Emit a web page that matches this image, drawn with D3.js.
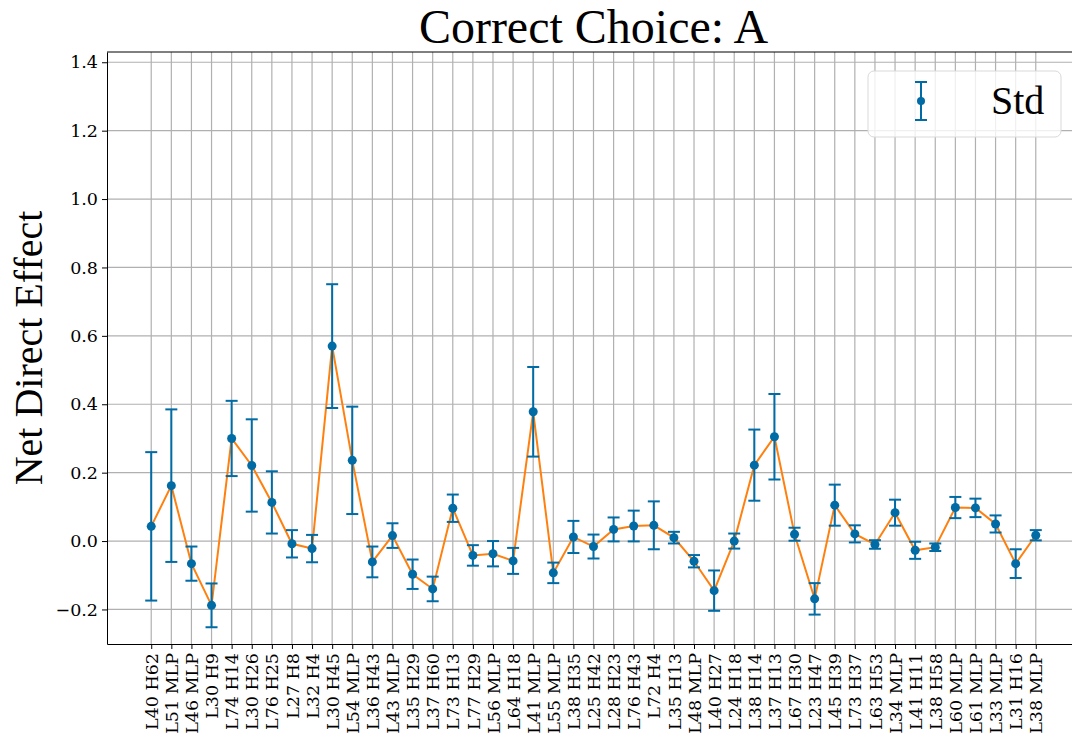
<!DOCTYPE html>
<html>
<head>
<meta charset="utf-8">
<script src="https://cdn.jsdelivr.net/npm/d3@7"></script>
<style>
  body { margin: 0; background: #fff; }
  svg { display: block; }
</style>
</head>
<body>
<svg id="chart" width="1072" height="740"></svg>
<script>
// components on the x axis
const labels = ["L40 H62", "L51 MLP", "L46 MLP", "L30 H9", "L74 H14", "L30 H26", "L76 H25", "L27 H8",
  "L32 H4", "L30 H45", "L54 MLP", "L36 H43", "L43 MLP", "L35 H29", "L37 H60", "L73 H13", "L77 H29",
  "L56 MLP", "L64 H18", "L41 MLP", "L55 MLP", "L38 H35", "L25 H42", "L28 H23", "L76 H43", "L72 H4",
  "L35 H13", "L48 MLP", "L40 H27", "L24 H18", "L38 H14", "L37 H13", "L67 H30", "L23 H47", "L45 H39",
  "L73 H37", "L63 H53", "L34 MLP", "L41 H11", "L38 H58", "L60 MLP", "L61 MLP", "L33 MLP", "L31 H16",
  "L38 MLP"];

// mean net direct effect
const means = [0.043, 0.162, -0.066, -0.188, 0.300, 0.221, 0.113, -0.008, -0.022, 0.570, 0.236,
  -0.061, 0.016, -0.097, -0.140, 0.096, -0.042, -0.037, -0.058, 0.378, -0.093, 0.012, -0.016,
  0.034, 0.044, 0.046, 0.010, -0.059, -0.145, 0.000, 0.222, 0.305, 0.020, -0.169, 0.105, 0.021,
  -0.010, 0.083, -0.027, -0.018, 0.098, 0.097, 0.050, -0.066, 0.017];

// standard deviation (error bar half length)
const stds = [0.217, 0.223, 0.050, 0.064, 0.110, 0.135, 0.091, 0.040, 0.040, 0.181, 0.157,
  0.045, 0.036, 0.043, 0.036, 0.040, 0.030, 0.037, 0.038, 0.131, 0.030, 0.047, 0.035,
  0.035, 0.045, 0.070, 0.017, 0.018, 0.059, 0.022, 0.104, 0.125, 0.019, 0.046, 0.060, 0.025,
  0.0125, 0.038, 0.025, 0.011, 0.031, 0.027, 0.025, 0.042, 0.015];

const yTicks = [-0.2, 0, 0.2, 0.4, 0.6, 0.8, 1.0, 1.2, 1.4];

const blue = "#006BA4";
const orange = "#FF800E";
const tickFont = "17.5px 'DejaVu Serif'";
const bigFont = "'Liberation Serif', serif";

const svg = d3.select("#chart");
const margin = {top: 52, left: 107, bottom: 644, right: 1080};

const x = d3.scaleLinear()
  .domain([-2.2, labels.length - 1 + 2.2])
  .range([margin.left, margin.right]);

const y = d3.scaleLinear()
  .domain([-0.301, 1.43])
  .range([margin.bottom, margin.top]);

//grid lines
const grid = svg.append("g").attr("stroke", "#b0b0b0").attr("stroke-width", 1.2);
grid.selectAll(".vg").data(labels).join("line")
  .attr("x1", (d, i) => x(i)).attr("x2", (d, i) => x(i))
  .attr("y1", margin.top).attr("y2", margin.bottom);
grid.selectAll(".hg").data(yTicks).join("line")
  .attr("x1", margin.left).attr("x2", margin.right)
  .attr("y1", d => y(d)).attr("y2", d => y(d));

//axes
const xAxis = svg.append("g")
  .attr("transform", `translate(0,${margin.bottom})`)
  .call(d3.axisBottom(x).tickValues(d3.range(labels.length)).tickFormat(i => labels[i]).tickSize(5).tickSizeOuter(0));
xAxis.selectAll("text")
  .style("font", tickFont).attr("fill", "#000")
  .attr("transform", "rotate(-90)")
  .attr("text-anchor", "end")
  .attr("x", -9).attr("y", 0).attr("dy", "0.35em");

const yAxis = svg.append("g")
  .attr("transform", `translate(${margin.left},0)`)
  .call(d3.axisLeft(y).tickValues(yTicks).tickFormat(d => d3.format(".1f")(d).replace("-", "\u2212")).tickSize(5).tickSizeOuter(0));
yAxis.selectAll("text").style("font", tickFont).attr("fill", "#000").attr("x", -9);

[xAxis, yAxis].forEach(a => {
  a.selectAll(".tick line").attr("stroke", "#000").attr("stroke-width", 1);
  a.select(".domain").attr("stroke", "#000").attr("stroke-width", 1);
});

// top spine
svg.append("line")
  .attr("x1", margin.left).attr("x2", margin.right)
  .attr("y1", margin.top).attr("y2", margin.top)
  .attr("stroke", "#000").attr("stroke-width", 1);

//connecting line of the means
svg.append("path")
  .datum(means)
  .attr("fill", "none")
  .attr("stroke", orange)
  .attr("stroke-width", 2)
  .attr("d", d3.line().x((d, i) => x(i)).y(d => y(d)));

//error bars
const bars = svg.append("g").attr("stroke", blue).attr("stroke-width", 2);
bars.selectAll(".eb").data(means).join("line")
  .attr("x1", (d, i) => x(i)).attr("x2", (d, i) => x(i))
  .attr("y1", (d, i) => y(d - stds[i])).attr("y2", (d, i) => y(d + stds[i]));
bars.selectAll(".capTop").data(means).join("line")
  .attr("x1", (d, i) => x(i) - 6).attr("x2", (d, i) => x(i) + 6)
  .attr("y1", (d, i) => y(d + stds[i])).attr("y2", (d, i) => y(d + stds[i]));
bars.selectAll(".capBot").data(means).join("line")
  .attr("x1", (d, i) => x(i) - 6).attr("x2", (d, i) => x(i) + 6)
  .attr("y1", (d, i) => y(d - stds[i])).attr("y2", (d, i) => y(d - stds[i]));

svg.append("g").attr("fill", blue)
  .selectAll("circle").data(means).join("circle")
  .attr("cx", (d, i) => x(i)).attr("cy", d => y(d)).attr("r", 4.5);

//title and axis label
svg.append("text")
  .attr("x", (margin.left + margin.right) / 2).attr("y", 43)
  .attr("text-anchor", "middle")
  .style("font-family", bigFont).style("font-size", "48px")
  .text("Correct Choice: A");

svg.append("text")
  .attr("transform", `translate(42,${(margin.top + margin.bottom) / 2}) rotate(-90)`)
  .attr("text-anchor", "middle")
  .style("font-family", bigFont).style("font-size", "40px")
  .text("Net Direct Effect");

//legend
const legend = svg.append("g");
legend.append("rect")
  .attr("x", 868).attr("y", 71).attr("width", 193).attr("height", 66)
  .attr("rx", 6)
  .attr("fill", "rgba(255,255,255,0.8)")
  .attr("stroke", "#d9d9d9").attr("stroke-width", 1);
const lg = legend.append("g").attr("stroke", blue).attr("stroke-width", 2);
lg.append("line").attr("x1", 921).attr("x2", 921).attr("y1", 82).attr("y2", 120);
lg.append("line").attr("x1", 915).attr("x2", 927).attr("y1", 82).attr("y2", 82);
lg.append("line").attr("x1", 915).attr("x2", 927).attr("y1", 120).attr("y2", 120);
legend.append("circle").attr("cx", 921).attr("cy", 101).attr("r", 4).attr("fill", blue);
legend.append("text")
  .attr("x", 991).attr("y", 114)
  .style("font-family", bigFont).style("font-size", "40px")
  .text("Std");
</script>
</body>
</html>
